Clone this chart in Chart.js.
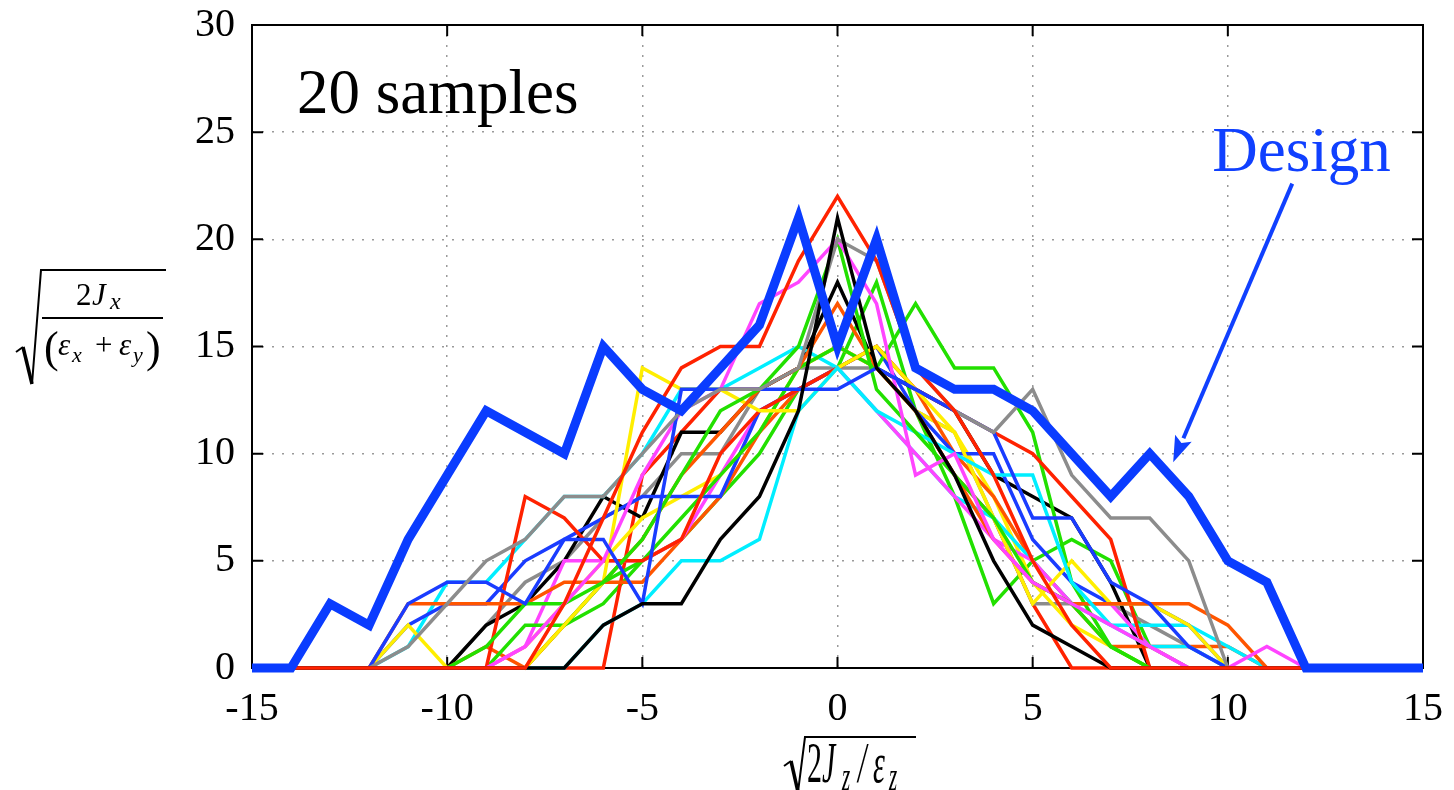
<!DOCTYPE html>
<html>
<head>
<meta charset="utf-8">
<script src="https://cdn.jsdelivr.net/npm/chart.js@4.4.1/dist/chart.umd.min.js"></script>
<style>
  html, body { margin: 0; padding: 0; background: #fff; }
  #chart { display: block; }
</style>
</head>
<body>
<canvas id="chart" width="1454" height="790"></canvas>
<script>
// x positions of the histogram bins, -15 .. 15
const xValues = [-15,-14,-13,-12,-11,-10,-9,-8,-7,-6,-5,-4,-3,-2,-1,0,1,2,3,4,5,6,7,8,9,10,11,12,13,14,15];
const xTicks = [-15, -10, -5, 0, 5, 10, 15];
const yTicks = [0, 5, 10, 15, 20, 25, 30];

// thick blue "Design" curve
const designCounts = [0,0,3,2,6,9,12,11,10,15,13,12,14,16,21,15,20,14,13,13,12,10,8,10,8,5,4,0,0,0,0];

// 20 samples
const sample01 = [0,0,0,0,0,0,0,0,3,7,11,14,15,15,19,22,19,14,12,9,5,2,0,0,0,0,0,0,0,0,0];
const sample02 = [0,0,0,0,0,0,0,0,0,2,3,3,6,8,12,21,14,12,9,5,2,1,0,0,0,0,0,0,0,0,0];
const sample03 = [0,0,0,0,1,3,5,6,8,8,10,12,13,13,14,20,19,14,12,11,13,9,7,7,5,0,0,0,0,0,0];
const sample04 = [0,0,0,0,3,4,4,3,6,6,3,13,13,13,13,13,14,13,12,11,7,7,4,3,1,0,0,0,0,0,0];
const sample05 = [0,0,0,0,0,0,0,1,3,5,9,12,13,17,18,20,17,9,10,6,4,3,2,1,0,0,1,0,0,0,0];
const sample06 = [0,0,0,0,0,0,1,3,3,4,6,9,12,13,15,20,13,11,9,7,4,3,1,0,0,0,0,0,0,0,0];
const sample07 = [0,0,0,0,0,0,0,0,0,2,3,5,5,6,12,14,12,11,10,9,9,4,2,1,1,0,0,0,0,0,0];
const sample08 = [0,0,0,0,3,3,3,3,4,4,6,9,11,13,14,17,14,12,9,6,4,3,3,3,3,2,0,0,0,0,0];
const sample09 = [0,0,0,0,2,0,0,0,2,4,14,13,13,12,12,14,15,13,11,7,3,5,3,3,2,0,0,0,0,0,0];
const sample10 = [0,0,0,0,0,0,0,8,7,5,5,6,10,12,13,14,15,13,12,11,10,8,6,0,0,0,0,0,0,0,0];
const sample11 = [0,0,0,0,0,0,0,2,2,4,5,7,9,11,14,15,14,17,14,14,11,4,1,0,0,0,0,0,0,0,0];
const sample12 = [0,0,0,0,2,3,3,5,6,7,8,8,8,12,13,14,15,12,10,10,6,4,3,3,2,0,0,0,0,0,0];
const sample13 = [0,0,0,0,0,0,0,1,5,5,5,6,9,12,13,14,12,10,8,6,5,3,3,1,0,0,0,0,0,0,0];
const sample14 = [0,0,0,0,1,4,4,6,8,8,10,13,13,14,15,14,12,10,8,7,5,3,2,2,2,1,0,0,0,0,0];
const sample15 = [0,0,0,0,0,0,1,0,2,4,4,6,8,11,13,14,15,13,10,8,5,3,1,1,1,1,0,0,0,0,0];
const sample16 = [0,0,0,0,0,0,0,1,3,5,7,8,9,11,14,15,14,12,11,8,4,2,1,0,0,0,0,0,0,0,0];
const sample17 = [0,0,0,0,0,0,2,3,5,8,7,11,11,13,14,18,14,13,12,9,8,7,4,0,0,0,0,0,0,0,0];
const sample18 = [0,0,0,0,0,0,2,4,5,7,8,10,10,13,14,14,14,12,11,7,3,3,3,2,1,0,0,0,0,0,0];
const sample19 = [0,0,0,0,0,0,0,0,0,0,9,11,13,13,14,15,14,12,9,7,3,0,0,0,0,0,0,0,0,0,0];
const sample20 = [0,0,0,0,0,0,0,0,2,3,5,6,8,10,13,14,18,12,8,3,5,6,5,1,0,0,0,0,0,0,0];

const samples = [sample01, sample02, sample03, sample04, sample05, sample06, sample07, sample08, sample09, sample10,
                 sample11, sample12, sample13, sample14, sample15, sample16, sample17, sample18, sample19, sample20];
const sampleColors = ['#ff2200', '#000000', '#8c8c8c', '#1a3cff', '#ff44ff', '#22e000', '#00eeff', '#ff5500', '#ffee00', '#ff2200',
                      '#22e000', '#1a3cff', '#ff44ff', '#00eeff', '#ff5500', '#ffee00', '#000000', '#8c8c8c', '#ff2200', '#22e000'];

// annotation anchors, in data units
const samplesLabel = { text: '20 samples', x: -13.85, y: 25.9 };
const designLabel = { text: 'Design', x: 9.6, y: 23.2 };
const arrowFrom = { x: 11.65, y: 22.6 };
const arrowTo = { x: 8.6, y: 9.6 };

const serif = '"Liberation Serif", "Times New Roman", serif';

const toPoints = (values) => values.map((v, i) => ({ x: xValues[i], y: v }));

const datasets = [{
    label: 'Design',
    data: toPoints(designCounts),
    borderColor: '#0a3cff',
    borderWidth: 9,
    borderJoinStyle: 'miter',
    pointRadius: 0,
    tension: 0,
    clip: 12,
    order: 0
}];
samples.forEach((s, i) => {
    datasets.push({
        label: 'sample ' + (i + 1),
        data: toPoints(s),
        borderColor: sampleColors[i],
        borderWidth: 3.5,
        pointRadius: 0,
        tension: 0,
        clip: 6,
        order: 1
    });
});

// frame + inward tick marks on all four sides
const framePlugin = {
    id: 'frame',
    beforeDatasetsDraw(chart) {
        const { ctx, chartArea: a, scales: { x, y } } = chart;
        ctx.save();
        ctx.strokeStyle = '#000';
        ctx.lineWidth = 2;
        ctx.strokeRect(a.left, a.top, a.right - a.left, a.bottom - a.top);
        ctx.beginPath();
        xTicks.forEach(v => {
            const px = x.getPixelForValue(v);
            ctx.moveTo(px, a.bottom); ctx.lineTo(px, a.bottom - 11);
            ctx.moveTo(px, a.top); ctx.lineTo(px, a.top + 11);
        });
        yTicks.forEach(v => {
            const py = y.getPixelForValue(v);
            ctx.moveTo(a.left, py); ctx.lineTo(a.left + 11, py);
            ctx.moveTo(a.right, py); ctx.lineTo(a.right - 11, py);
        });
        ctx.stroke();
        ctx.restore();
    }
};

function drawYTitle(ctx) {
    ctx.save();
    ctx.fillStyle = '#000';
    ctx.strokeStyle = '#000';
    ctx.textBaseline = 'alphabetic';
    // radical
    ctx.lineWidth = 2;
    ctx.beginPath();
    ctx.moveTo(16, 352); ctx.lineTo(23, 347);
    ctx.stroke();
    ctx.lineWidth = 3.5;
    ctx.beginPath();
    ctx.moveTo(23, 347); ctx.lineTo(32, 384);
    ctx.stroke();
    ctx.lineWidth = 2;
    ctx.beginPath();
    ctx.moveTo(32, 384); ctx.lineTo(41, 270); ctx.lineTo(166, 270);
    ctx.stroke();
    // numerator 2J_x
    ctx.font = '31px ' + serif;
    ctx.fillText('2', 76, 305);
    ctx.font = 'italic 31px ' + serif;
    ctx.fillText('J', 92, 305);
    ctx.font = 'italic 24px ' + serif;
    ctx.fillText('x', 110, 309);
    // fraction bar
    ctx.lineWidth = 2;
    ctx.beginPath();
    ctx.moveTo(42, 318); ctx.lineTo(163, 318);
    ctx.stroke();
    // denominator (eps_x + eps_y)
    ctx.font = '44px ' + serif;
    ctx.fillText('(', 44, 362);
    ctx.fillText(')', 146, 362);
    ctx.font = 'italic 31px ' + serif;
    ctx.fillText('\u03b5', 58, 355);
    ctx.fillText('\u03b5', 119, 355);
    ctx.font = 'italic 22px ' + serif;
    ctx.fillText('x', 72, 362);
    ctx.fillText('y', 133, 362);
    ctx.font = '31px ' + serif;
    ctx.fillText('+', 95, 355);
    ctx.restore();
}

function drawXTitle(ctx) {
    ctx.save();
    ctx.fillStyle = '#000';
    ctx.strokeStyle = '#000';
    ctx.lineWidth = 2;
    ctx.beginPath();
    ctx.moveTo(784, 766); ctx.lineTo(791, 761);
    ctx.stroke();
    ctx.lineWidth = 3.5;
    ctx.beginPath();
    ctx.moveTo(791, 761); ctx.lineTo(798, 792);
    ctx.stroke();
    ctx.lineWidth = 2;
    ctx.beginPath();
    ctx.moveTo(798, 792); ctx.lineTo(805, 737); ctx.lineTo(916, 737);
    ctx.stroke();
    // text is stretched vertically in the original
    ctx.translate(0, 782);
    ctx.scale(1, 1.9);
    ctx.textBaseline = 'alphabetic';
    ctx.font = '30px ' + serif;
    ctx.fillText('2', 807, 0);
    ctx.font = 'italic 30px ' + serif;
    ctx.fillText('J', 822, 0);
    ctx.font = 'italic 21px ' + serif;
    ctx.fillText('z', 842, 4);
    ctx.font = 'italic 30px ' + serif;
    ctx.fillText('/', 858, 0);
    ctx.fillText('\u03b5', 873, 0);
    ctx.font = 'italic 21px ' + serif;
    ctx.fillText('z', 889, 4);
    ctx.restore();
}

const annotationPlugin = {
    id: 'annotations',
    afterDraw(chart) {
        const { ctx, scales: { x, y } } = chart;
        ctx.save();
        ctx.textBaseline = 'alphabetic';
        ctx.textAlign = 'left';

        ctx.fillStyle = '#000';
        ctx.font = '63px ' + serif;
        ctx.fillText(samplesLabel.text, x.getPixelForValue(samplesLabel.x), y.getPixelForValue(samplesLabel.y));

        ctx.fillStyle = '#1040ff';
        ctx.fillText(designLabel.text, x.getPixelForValue(designLabel.x), y.getPixelForValue(designLabel.y));

        // arrow
        const x0 = x.getPixelForValue(arrowFrom.x), y0 = y.getPixelForValue(arrowFrom.y);
        const x1 = x.getPixelForValue(arrowTo.x), y1 = y.getPixelForValue(arrowTo.y);
        const ang = Math.atan2(y1 - y0, x1 - x0);
        const headLen = 26, headHalf = 9;
        const bx = x1 - headLen * Math.cos(ang), by = y1 - headLen * Math.sin(ang);
        ctx.strokeStyle = '#1040ff';
        ctx.lineWidth = 4;
        ctx.beginPath();
        ctx.moveTo(x0, y0); ctx.lineTo(bx, by);
        ctx.stroke();
        ctx.beginPath();
        ctx.moveTo(x1, y1);
        ctx.lineTo(bx + headHalf * Math.sin(ang), by - headHalf * Math.cos(ang));
        ctx.lineTo(bx + 5 * Math.cos(ang), by + 5 * Math.sin(ang));
        ctx.lineTo(bx - headHalf * Math.sin(ang), by + headHalf * Math.cos(ang));
        ctx.closePath();
        ctx.fill();

        drawYTitle(ctx);
        drawXTitle(ctx);
        ctx.restore();
    }
};

new Chart(document.getElementById('chart'), {
    type: 'line',
    data: { datasets: datasets },
    options: {
        responsive: false,
        animation: false,
        devicePixelRatio: 1,
        layout: { padding: { left: 0, right: 31, top: 25, bottom: 0 } },
        plugins: {
            legend: { display: false },
            tooltip: { enabled: false }
        },
        scales: {
            x: {
                type: 'linear',
                min: -15,
                max: 15,
                afterFit: (scale) => {
                    scale.height = 122;
                    scale.paddingLeft = 0;
                    scale.paddingRight = 0;
                },
                ticks: {
                    stepSize: 5,
                    color: '#000',
                    padding: 17,
                    maxRotation: 0,
                    font: { family: serif, size: 40 }
                },
                grid: { color: '#9a9a9a', lineWidth: 1.5, drawTicks: false },
                border: { display: false, dash: [2, 8] }
            },
            y: {
                min: 0,
                max: 30,
                afterFit: (scale) => {
                    scale.width = 252;
                    scale.paddingTop = 0;
                    scale.paddingBottom = 0;
                },
                ticks: {
                    stepSize: 5,
                    color: '#000',
                    padding: 17,
                    font: { family: serif, size: 40 }
                },
                grid: { color: '#9a9a9a', lineWidth: 1.5, drawTicks: false },
                border: { display: false, dash: [2, 8] }
            }
        }
    },
    plugins: [framePlugin, annotationPlugin]
});
</script>
</body>
</html>
